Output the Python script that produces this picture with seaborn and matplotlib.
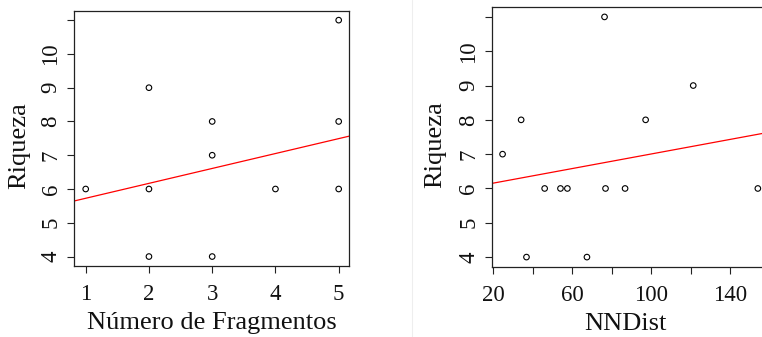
import matplotlib
matplotlib.use("Agg")
import matplotlib.pyplot as plt
from matplotlib.lines import Line2D
import seaborn as sns
import pandas as pd

# Richness vs. number of fragments
frag = [1, 2, 2, 2, 3, 3, 3, 4, 5, 5, 5]
riq_frag = [6, 9, 6, 4, 8, 7, 4, 6, 11, 8, 6]
fit_frag = (5.284, 0.4416)  # intercept, slope

# Richness vs. nearest-neighbour distance
nndist = [24.7, 34.1, 36.8, 46.0, 54.0, 57.5, 67.4, 76.3, 76.8, 86.7, 97.1, 121.2, 153.9]
riq_nn = [7, 8, 4, 6, 6, 6, 4, 11, 6, 6, 8, 9, 6]
fit_nn = (5.943, 0.01063)

y_ticks = [4, 5, 6, 7, 8, 9, 10, 11]
y_labels = ["4", "5", "6", "7", "8", "9", "10", ""]
x1_ticks = [1, 2, 3, 4, 5]
x2_ticks = [20, 40, 60, 80, 100, 120, 140, 160]
x2_labels = ["20", "", "60", "", "100", "", "140", ""]

sns.set_theme(style="ticks")
plt.rcParams["font.family"] = ["Liberation Serif", "DejaVu Serif"]

W, H = 762, 337
fig = plt.figure(figsize=(W / 100, H / 100), dpi=100)
fig.patch.set_facecolor("white")

def px_axes(x0, x1, top, bottom):
    return fig.add_axes([x0 / W, 1 - bottom / H, (x1 - x0) / W, (bottom - top) / H])

ax1 = px_axes(74, 349, 10.7, 266)
ax2 = px_axes(491.7, 491.7 + 139.8 * 1.99, 7.3, 266.7)

df1 = pd.DataFrame({"frag": frag, "riq": riq_frag})
df2 = pd.DataFrame({"nn": nndist, "riq": riq_nn})

for ax, df, xcol, fit in [(ax1, df1, "frag", fit_frag), (ax2, df2, "nn", fit_nn)]:
    sns.scatterplot(data=df, x=xcol, y="riq", ax=ax, s=16, marker="o",
                    facecolor="none", edgecolor="black", linewidth=0.8, zorder=3)
    ax.axline((0, fit[0]), slope=fit[1], color="#ff0000", lw=0.9, zorder=2)
    ax.set_facecolor("white")
    for sp in ax.spines.values():
        sp.set_visible(True)
        sp.set_color("#222222")
        sp.set_linewidth(0.9)
    ax.set_ylim(3.72, 11.28)
    ax.set_yticks(y_ticks)
    ax.set_yticklabels(y_labels)
    ax.tick_params(axis="both", length=5, width=0.8, color="#222222",
                   labelsize=16.5, labelcolor="#111111")
    ax.tick_params(axis="y", labelrotation=90, pad=4)
    ax.tick_params(axis="x", pad=8)
    for lab in ax.get_yticklabels():
        lab.set_va("center")
    ax.set_ylabel("Riqueza", fontsize=19, color="#111111")
    ax.grid(False)

ax1.set_xlim(0.815, 5.163)
ax1.set_xticks(x1_ticks)
ax1.set_xticklabels([str(t) for t in x1_ticks])
ax1.set_xlabel("Número de Fragmentos", fontsize=19, color="#111111")

ax2.set_xlim(19.2, 159.0)
ax2.set_xticks(x2_ticks)
ax2.set_xticklabels(x2_labels)
ax2.set_xlabel("NNDist", fontsize=19, color="#111111")

ax1.yaxis.set_label_coords(-0.16, 0.47)
ax2.yaxis.set_label_coords(-0.164, 0.47)
ax1.xaxis.set_label_coords(0.5, -0.18)
ax2.xaxis.set_label_coords(0.48, -0.18)

# thin divider between the two panels
fig.add_artist(Line2D([412 / W, 412 / W], [0, 1], color="#eeeeee", lw=0.8))

fig.savefig("out.png", dpi=100, facecolor="white")
